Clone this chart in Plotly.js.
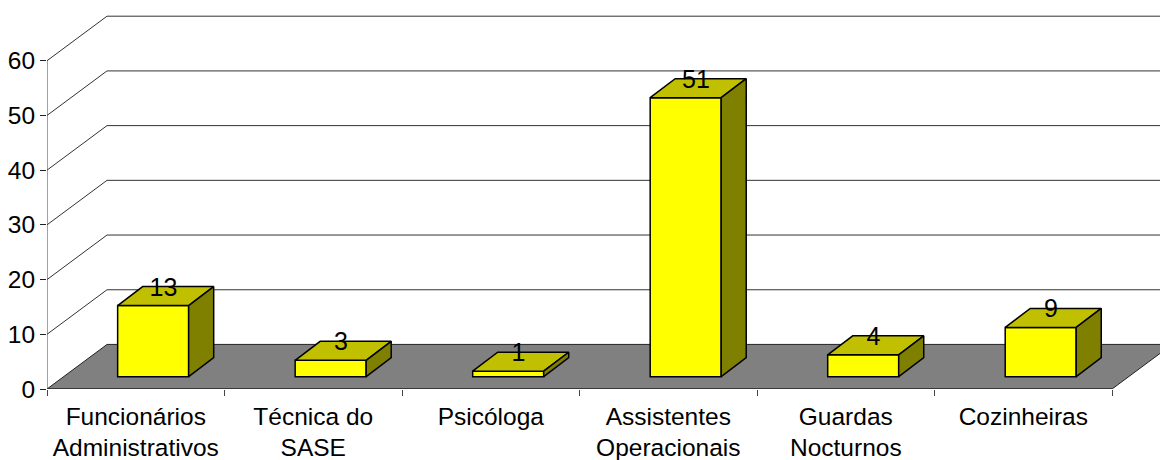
<!DOCTYPE html>
<html>
<head>
<meta charset="utf-8">
<script src="https://cdn.plot.ly/plotly-3.0.1.min.js"></script>
<style>html,body{margin:0;padding:0;background:#fff}</style>
</head>
<body>
<div id="chart" style="width:1160px;height:460px"></div>
<script>
const categories = ["Funcionários<br>Administrativos","Técnica do<br>SASE","Psicóloga","Assistentes<br>Operacionais","Guardas<br>Nocturnos","Cozinheiras"];
const values = [13, 3, 1, 51, 4, 9];
const yTicks = [0, 10, 20, 30, 40, 50, 60];

const FONT = "Liberation Sans, Arial, sans-serif";
const wallDX = 0.338, wallDY = 8.14;   // depth of the chart floor, in axis units
const barDX = 0.141, barDY = 3.47;     // depth of each bar
const barW = 0.40, barShift = 0.098, barBase = 2.25;
const n = categories.length;
const centers = categories.map((_, i) => i + 0.5);
const barX = centers.map(c => c + barShift);

const topX = [], topY = [], sideX = [], sideY = [];
values.forEach((v, i) => {
  const l = barX[i] - barW / 2, r = barX[i] + barW / 2, t = barBase + v, b = barBase;
  topX.push(l, l + barDX, r + barDX, r, l, null);
  topY.push(t, t + barDY, t + barDY, t, t, null);
  sideX.push(r, r + barDX, r + barDX, r, r, null);
  sideY.push(t, t + barDY, b + barDY, b, t, null);
});

const traces = [
  {type:"bar", x:barX, y:values, base:barBase, width:barW, marker:{color:"#FFFF00", line:{color:"#000", width:1.5}}, showlegend:false, hoverinfo:"y"},
  {type:"scatter", mode:"lines", x:topX, y:topY, fill:"toself", fillcolor:"#C0C000", line:{color:"#000", width:1.5}, showlegend:false, hoverinfo:"skip"},
  {type:"scatter", mode:"lines", x:sideX, y:sideY, fill:"toself", fillcolor:"#808000", line:{color:"#000", width:1.5}, showlegend:false, hoverinfo:"skip"},
  {type:"scatter", mode:"text", x:barX.map(x => x + 0.058), y:values.map(v => barBase + v + barDY - 0.5), text:values.map(String),
   textposition:"middle center", textfont:{family:FONT, size:25, color:"#000"}, cliponaxis:false, showlegend:false, hoverinfo:"skip"}
];

const gl = {color:"#333", width:1};
const shapes = [
  {type:"path", layer:"below", path:`M0,0 L${n},0 L${n + wallDX},${wallDY} L${wallDX},${wallDY} Z`, fillcolor:"#808080", line:{color:"#222", width:1}}
];
yTicks.forEach(t => {
  if (t > 0) shapes.push({type:"line", layer:"below", x0:0, y0:t, x1:wallDX, y1:t + wallDY, line:gl});
  shapes.push({type:"line", layer:"below", x0:wallDX, y0:t + wallDY, x1:n + wallDX, y1:t + wallDY, line:gl});
});
shapes.push({type:"line", layer:"below", x0:0, y0:0, x1:0, y1:60, line:{color:"#444", width:1}});
shapes.push({type:"line", layer:"above", x0:0, y0:0, x1:n, y1:0, line:{color:"#222", width:1}});

const layout = {
  width:1160, height:460, margin:{l:47, r:0, t:0, b:71, pad:0},
  paper_bgcolor:"#fff", plot_bgcolor:"#fff", showlegend:false,
  xaxis:{range:[0, 6.27], showgrid:false, zeroline:false, showline:false, tickmode:"array", tickvals:centers, ticktext:categories,
    ticks:"", ticklen:0, ticklabelstandoff:10, tickangle:0, tickfont:{family:FONT, size:24.5, color:"#000"},
    minor:{tickmode:"array", tickvals:[0,1,2,3,4,5,6], ticks:"outside", ticklen:6, tickcolor:"#444", tickwidth:1, showgrid:false}},
  yaxis:{range:[0, 71.1], showgrid:false, zeroline:false, showline:false, tickmode:"array", tickvals:yTicks,
    ticks:"outside", ticklen:6, tickcolor:"#222", tickwidth:1, tickfont:{family:FONT, size:24.5, color:"#000"}},
  shapes
};
Plotly.newPlot("chart", traces, layout, {displayModeBar:false, staticPlot:true});
</script>
</body>
</html>
